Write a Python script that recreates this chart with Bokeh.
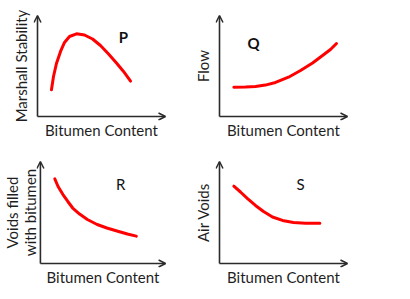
from bokeh.embed import file_html
from bokeh.layouts import column, row
from bokeh.models import Arrow, FixedTicker, Label, OpenHead
from bokeh.plotting import figure
from bokeh.resources import INLINE

# ---- data (arbitrary units, both axes run 0..10) ----
x_title = "Bitumen Content"

# P: Marshall stability rises to a peak, then falls
stab_x = [1.09, 1.25, 1.48, 1.80, 2.11, 2.50, 3.05, 3.67, 4.30, 4.92, 5.55, 6.17, 6.72, 7.27]
stab_y = [2.64, 3.96, 5.25, 6.44, 7.33, 7.92, 8.19, 8.07, 7.67, 7.03, 6.19, 5.30, 4.46, 3.50]

# Q: flow stays flat, then increases
flow_x = [1.12, 2.03, 2.81, 3.59, 4.38, 5.39, 6.33, 7.27, 8.05, 8.67, 9.14]
flow_y = [2.90, 2.91, 2.97, 3.11, 3.37, 3.89, 4.55, 5.30, 6.04, 6.63, 7.23]

# R: voids filled with bitumen
vfb_x = [1.15, 1.41, 1.80, 2.19, 2.58, 3.13, 3.75, 4.53, 5.31, 6.25, 6.95, 7.66]
vfb_y = [8.30, 7.55, 6.76, 6.08, 5.44, 4.85, 4.31, 3.82, 3.48, 3.14, 2.89, 2.68]

# S: air voids drop and level off
av_x = [1.12, 1.64, 2.19, 2.81, 3.44, 4.14, 4.92, 5.78, 6.72, 7.84]
av_y = [7.58, 7.01, 6.37, 5.69, 5.10, 4.56, 4.22, 4.02, 3.95, 3.95]

FONT = "Lato"
TEXT = "#1f1f1f"
AXIS = "#2b2b2b"
CURVE = "#ff0000"

X_PX = 128   # length of the x arrow in pixels
PAD = 4      # breathing room so arrow heads stay inside the frame


def make_panel(w, h, left, top, y_px, xs, ys, y_title, y_standoff, y_line_height,
               tag, tag_x, tag_y, tag_bold):
    fw = X_PX + 2 * PAD
    fh = y_px + 2 * PAD
    xpad = PAD / (X_PX / 10)
    ypad = PAD / (y_px / 10)
    p = figure(width=w, height=h,
               x_range=(-xpad, 10 + xpad), y_range=(-ypad, 10 + ypad),
               output_backend="svg", toolbar_location=None,
               min_border_left=left, min_border_right=w - left - fw,
               min_border_top=top, min_border_bottom=h - top - fh)
    p.outline_line_color = None
    p.xgrid.visible = False
    p.ygrid.visible = False
    p.background_fill_color = "white"
    p.border_fill_color = "white"

    for ax in (p.xaxis[0], p.yaxis[0]):
        ax.ticker = FixedTicker(ticks=[])
        ax.axis_line_color = None
        ax.major_tick_line_color = None
        ax.minor_tick_line_color = None
        ax.major_tick_out = 0
        ax.major_label_text_font_size = "0px"
        ax.axis_label_text_font = FONT
        ax.axis_label_text_font_size = "15px"
        ax.axis_label_text_font_style = "normal"
        ax.axis_label_text_color = TEXT

    p.xaxis.axis_label = x_title
    p.xaxis.axis_label_standoff = 0
    p.yaxis.axis_label = y_title
    p.yaxis.axis_label_standoff = y_standoff
    p.yaxis.axis_label_text_line_height = y_line_height

    # L-shaped axes with open arrow heads
    for xe, ye in ((10, 0), (0, 10)):
        p.add_layout(Arrow(end=OpenHead(size=7, line_width=1.5, line_color=AXIS),
                           x_start=0, y_start=0, x_end=xe, y_end=ye,
                           line_color=AXIS, line_width=1.6))

    p.line(xs, ys, line_color=CURVE, line_width=3, line_cap="round", line_join="round")

    p.add_layout(Label(x=tag_x, y=tag_y, text=tag, text_align="center",
                       text_baseline="middle", text_font=FONT,
                       text_font_size="15px",
                       text_font_style="bold" if tag_bold else "normal",
                       text_color="#111111"))
    return p


p_stab = make_panel(190, 145, 33, 11, 101, stab_x, stab_y, "Marshall Stability", 4, 1.2,
                    "P", 6.72, 7.92, True)
p_flow = make_panel(220, 145, 25, 11, 101, flow_x, flow_y, "Flow", 4, 1.2,
                    "Q", 2.66, 7.23, True)
# tight line height and a small negative standoff keep the two-line title
# inside the left margin
p_vfb = make_panel(190, 154, 33, 12, 102, vfb_x, vfb_y, "Voids filled\nwith bitumen", -2, 0.95,
                   "R", 6.41, 7.84, False)
p_av = make_panel(220, 154, 25, 12, 102, av_x, av_y, "Air Voids", 4, 1.2,
                  "S", 6.33, 7.84, False)

layout = column(row(p_stab, p_flow), row(p_vfb, p_av))

open("out.html", "w").write(file_html(layout, INLINE))
